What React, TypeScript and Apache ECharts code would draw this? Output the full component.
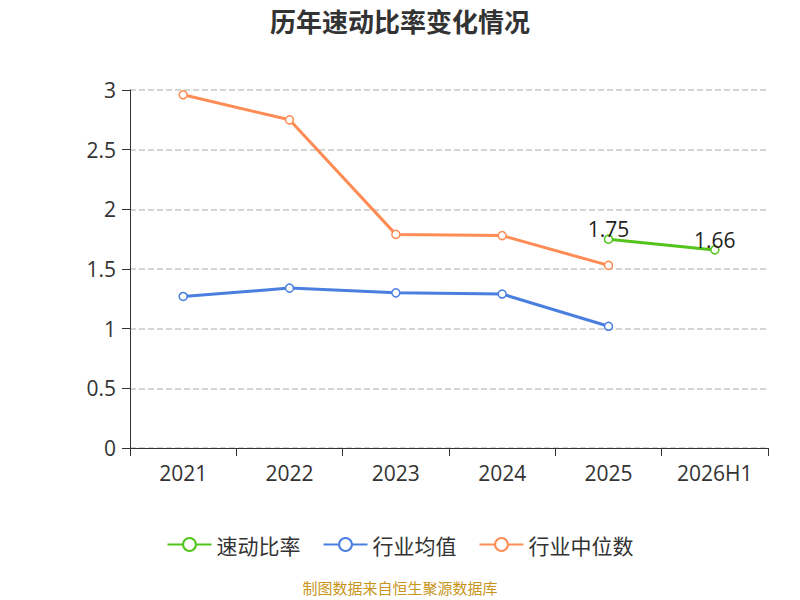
import React, { useEffect, useRef } from "react";
import * as echarts from "echarts";

const categories = ["2021", "2022", "2023", "2024", "2025", "2026H1"];
const quickRatio = [null, null, null, null, 1.75, 1.66];
const industryAvg = [1.27, 1.34, 1.3, 1.29, 1.02, null];
const industryMedian = [2.96, 2.75, 1.79, 1.78, 1.53, null];

export default function App() {
  const ref = useRef<HTMLDivElement>(null);

  useEffect(() => {
    if (!ref.current) return;
    const chart = echarts.init(ref.current, null, { renderer: "svg" });
    const font = "'Noto Sans CJK SC', 'Noto Sans', sans-serif";
    const line = (name: string, data: any[], color: string, label = false) => ({
      name,
      type: "line",
      data,
      symbol: "circle",
      symbolSize: 8,
      lineStyle: { width: 3, color },
      itemStyle: { color: "#fff", borderColor: color, borderWidth: 1.5 },
      label: { show: label, position: "top", offset: [0, 10], color: "#222", fontSize: 21, fontFamily: "'Open Sans', sans-serif" },
    });
    chart.setOption({
      animation: false,
      textStyle: { fontFamily: font },
      title: {
        text: "历年速动比率变化情况",
        left: "center",
        top: -6,
        textStyle: { fontSize: 26, fontWeight: "bold", color: "#333", fontFamily: font },
      },
      grid: { left: 122, right: 24, top: 82, bottom: 152 },
      xAxis: {
        type: "category",
        data: categories,
        axisLine: { lineStyle: { color: "#333" } },
        axisTick: { show: true, length: 8, lineStyle: { color: "#333" } },
        axisLabel: { color: "#333", fontSize: 21, margin: 14, fontFamily: "'Open Sans', sans-serif" },
      },
      yAxis: {
        type: "value",
        min: 0,
        max: 3,
        interval: 0.5,
        axisLine: { show: true, lineStyle: { color: "#333" } },
        axisTick: { show: true, length: 8, lineStyle: { color: "#333" } },
        axisLabel: { color: "#333", fontSize: 21, margin: 14, fontFamily: "'Open Sans', sans-serif" },
        splitLine: { lineStyle: { type: "dashed", color: "#c8c8c8", width: 1.5 } },
      },
      legend: {
        bottom: 40,
        itemWidth: 44,
        itemHeight: 16,
        itemGap: 22,
        textStyle: { fontSize: 21, color: "#333" },
        data: ["速动比率", "行业均值", "行业中位数"],
      },
      series: [
        line("速动比率", quickRatio, "#52c41a", true),
        line("行业均值", industryAvg, "#4a7fe0"),
        line("行业中位数", industryMedian, "#ff8c55"),
      ],
      graphic: [
        {
          type: "text",
          left: "center",
          top: 572,
          style: { text: "制图数据来自恒生聚源数据库", fill: "#c8951a", fontSize: 15, fontFamily: font },
        },
      ],
    });
    return () => chart.dispose();
  }, []);

  return <div ref={ref} style={{ width: 784, height: 592 }} />;
}
